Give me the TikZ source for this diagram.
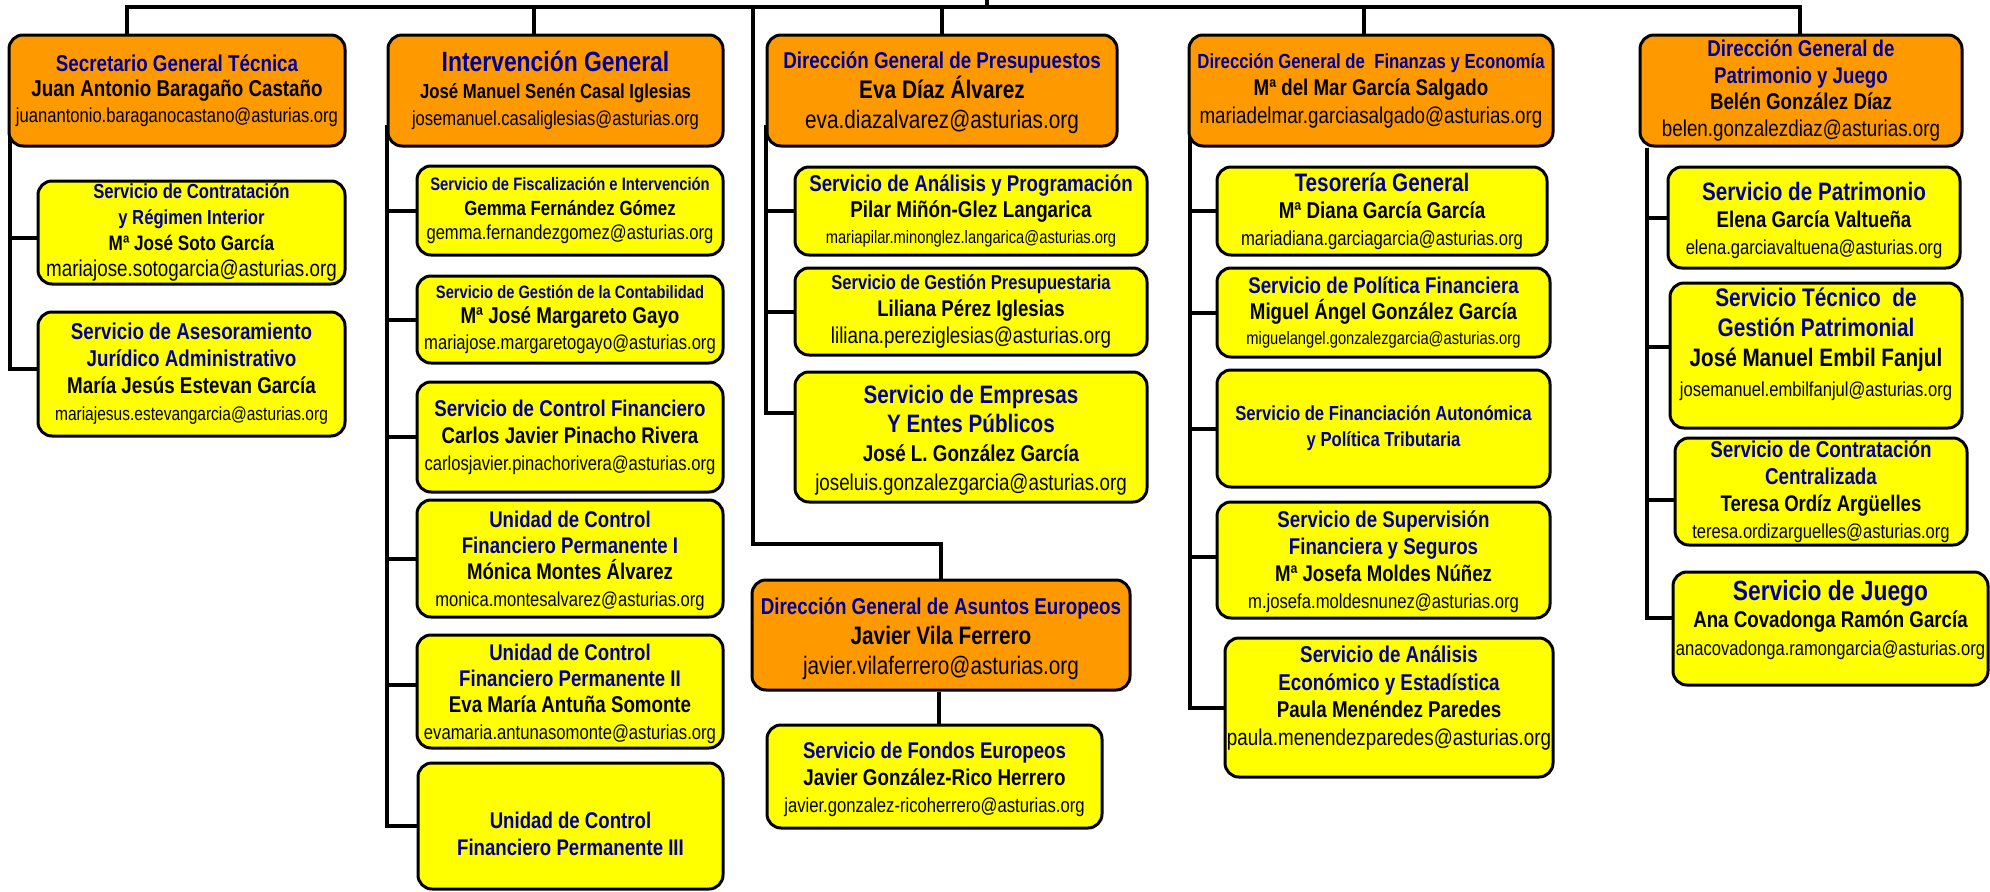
\documentclass[tikz,border=0pt]{standalone}
\usepackage{fontspec}
\setmainfont{Liberation Sans}[FakeStretch=0.82]
\usetikzlibrary{fit,calc}
\definecolor{orgbox}{RGB}{255,153,0}
\definecolor{yelbox}{RGB}{255,255,0}
\definecolor{ttlblue}{RGB}{0,0,153}
\newcommand\Ttl[2]{{\color{ttlblue}\bfseries\fontsize{#1}{#1}\selectfont #2}}
\newcommand\Nme[2]{{\bfseries\fontsize{#1}{#1}\selectfont #2}}
\newcommand\Mail[2]{{\fontsize{#1}{#1}\selectfont #2}}
\pgfdeclarelayer{paper}
\pgfdeclarelayer{bg}
\pgfsetlayers{paper,bg,main}
% name, style, x1, y1, x2, y2, text dy, baselineskip, text
\newcommand\bx[9]{%
  \node[#2, fit={(#3,#4) (#5,#6)}] (#1) {};
  \node[txt, font=\fontsize{20}{#8}\selectfont] (#1-t) at ([yshift=#7bp]#1.center) {#9};}
\begin{document}
\begin{tikzpicture}[x=1bp,y=-1bp,
  boxbase/.style={draw=black, line width=3bp, rounded corners=14bp, inner sep=0pt, minimum size=0pt},
  obox/.style={boxbase, fill=orgbox},
  ybox/.style={boxbase, fill=yelbox},
  txt/.style={align=center, inner sep=0pt},
  conn/.style={draw=black, line width=4bp}]
\useasboundingbox (0,0) rectangle (1990,892);
\begin{pgfonlayer}{paper}
\fill[white] (0,0) rectangle (1990,892);
\end{pgfonlayer}

% ---------- column 1
\bx{sgt}{obox}{9}{35}{345}{146}{0}{25.5}{\Ttl{23}{Secretario General Técnica}\\ \Nme{23}{Juan Antonio Baragaño Castaño}\\ \Mail{20.3}{juanantonio.baraganocastano@asturias.org}}
\bx{contr}{ybox}{38}{181}{345}{284}{0}{26}{\Ttl{20.4}{Servicio de Contratación}\\ \Ttl{20.4}{y Régimen Interior}\\ \Nme{21}{Mª José Soto García}\\ \Mail{23}{mariajose.sotogarcia@asturias.org}}
\bx{ases}{ybox}{38}{312}{345}{436}{0}{27}{\Ttl{23}{Servicio de Asesoramiento}\\ \Ttl{23}{Jurídico Administrativo}\\ \Nme{23}{María Jesús Estevan García}\\ \Mail{19}{mariajesus.estevangarcia@asturias.org}}

% ---------- column 2
\bx{ig}{obox}{388}{35}{723}{146}{0}{27}{\Ttl{28}{Intervención General}\\ \Nme{20.5}{José Manuel Senén Casal Iglesias}\\ \Mail{20.3}{josemanuel.casaliglesias@asturias.org}}
\bx{fisc}{ybox}{417}{166}{723}{255}{0}{25}{\Ttl{18.1}{Servicio de Fiscalización e Intervención}\\ \Nme{20.6}{Gemma Fernández Gómez}\\ \Mail{20.3}{gemma.fernandezgomez@asturias.org}}
\bx{cont}{ybox}{417}{276}{723}{363}{0}{26}{\Ttl{18}{Servicio de Gestión de la Contabilidad}\\ \Nme{23}{Mª José Margareto Gayo}\\ \Mail{20.3}{mariajose.margaretogayo@asturias.org}}
\bx{cf}{ybox}{417}{382}{723}{492}{0}{27}{\Ttl{22.9}{Servicio de Control Financiero}\\ \Nme{22.8}{Carlos Javier Pinacho Rivera}\\ \Mail{20.3}{carlosjavier.pinachorivera@asturias.org}}
\bx{ua}{ybox}{417}{500}{723}{617}{-2}{26.5}{\Ttl{22.8}{Unidad de Control}\\ \Ttl{22.8}{Financiero Permanente I}\\ \Nme{22.8}{Mónica Montes Álvarez}\\ \Mail{20.3}{monica.montesalvarez@asturias.org}}
\bx{ub}{ybox}{417}{635}{723}{748}{-2}{26.5}{\Ttl{22.8}{Unidad de Control}\\ \Ttl{22.8}{Financiero Permanente II}\\ \Nme{22.9}{Eva María Antuña Somonte}\\ \Mail{20.4}{evamaria.antunasomonte@asturias.org}}
\bx{uc}{ybox}{418}{763}{723}{889}{-8}{27}{\Ttl{22.8}{Unidad de Control}\\ \Ttl{22.8}{Financiero Permanente III}}

% ---------- column 3
\bx{pres}{obox}{767}{35}{1117}{146}{-2}{30}{\Ttl{23}{Dirección General de Presupuestos}\\ \Nme{25.5}{Eva Díaz Álvarez}\\ \Mail{25.4}{eva.diazalvarez@asturias.org}}
\bx{anp}{ybox}{795}{167}{1147}{255}{0}{26}{\Ttl{22.9}{Servicio de Análisis y Programación}\\ \Nme{23}{Pilar Miñón-Glez Langarica}\\ \Mail{18}{mariapilar.minonglez.langarica@asturias.org}}
\bx{gp}{ybox}{795}{268}{1147}{355}{0}{27.5}{\Ttl{20.3}{Servicio de Gestión Presupuestaria}\\ \Nme{22.8}{Liliana Pérez Iglesias}\\ \Mail{23}{liliana.pereziglesias@asturias.org}}
\bx{emp}{ybox}{795}{372}{1147}{502}{-3}{29}{\Ttl{25.3}{Servicio de Empresas}\\ \Ttl{25.3}{Y Entes Públicos}\\ \Nme{23}{José L. González García}\\ \Mail{23}{joseluis.gonzalezgarcia@asturias.org}}
\bx{ae}{obox}{752}{580}{1130}{690}{-4}{30}{\Ttl{23}{Dirección General de Asuntos Europeos}\\ \Nme{25.4}{Javier Vila Ferrero}\\ \Mail{25.4}{javier.vilaferrero@asturias.org}}
\bx{fe}{ybox}{767}{725}{1102}{828}{-3}{27}{\Ttl{22.8}{Servicio de Fondos Europeos}\\ \Nme{23}{Javier González-Rico Herrero}\\ \Mail{20.4}{javier.gonzalez-ricoherrero@asturias.org}}

% ---------- column 4
\bx{fin}{obox}{1189}{35}{1553}{146}{0}{27.5}{\Ttl{20.5}{Dirección General de~ Finanzas y Economía}\\ \Nme{22.9}{Mª del Mar García Salgado}\\ \Mail{23}{mariadelmar.garciasalgado@asturias.org}}
\bx{tes}{ybox}{1217}{167}{1547}{255}{0}{27}{\Ttl{25.4}{Tesorería General}\\ \Nme{23}{Mª Diana García García}\\ \Mail{20.4}{mariadiana.garciagarcia@asturias.org}}
\bx{pf}{ybox}{1217}{268}{1550}{357}{0}{26}{\Ttl{22.9}{Servicio de Política Financiera}\\ \Nme{22.9}{Miguel Ángel González García}\\ \Mail{18}{miguelangel.gonzalezgarcia@asturias.org}}
\bx{fa}{ybox}{1217}{370}{1550}{487}{0}{26}{\Ttl{20.4}{Servicio de Financiación Autonómica}\\ \Ttl{20.4}{y Política Tributaria}}
\bx{sup}{ybox}{1217}{502}{1550}{618}{-2}{27}{\Ttl{22.9}{Servicio de Supervisión}\\ \Ttl{22.9}{Financiera y Seguros}\\ \Nme{22.8}{Mª Josefa Moldes Núñez}\\ \Mail{20.4}{m.josefa.moldesnunez@asturias.org}}
\bx{aee}{ybox}{1225}{638}{1553}{777}{9.5}{27.5}{\Ttl{23}{Servicio de Análisis}\\ \Ttl{23}{Económico y Estadística}\\ \Nme{23}{Paula Menéndez Paredes}\\ \Mail{23}{paula.menendezparedes@asturias.org}}

% ---------- column 5
\bx{pj}{obox}{1640}{35}{1962}{146}{0}{27}{\Ttl{22.9}{Dirección General de}\\ \Ttl{22.9}{Patrimonio y Juego}\\ \Nme{22.9}{Belén González Díaz}\\ \Mail{23}{belen.gonzalezdiaz@asturias.org}}
\bx{pat}{ybox}{1668}{167}{1960}{268}{-3}{27.5}{\Ttl{25.3}{Servicio de Patrimonio}\\ \Nme{22.8}{Elena García Valtueña}\\ \Mail{20.3}{elena.garciavaltuena@asturias.org}}
\bx{tec}{ybox}{1670}{283}{1962}{428}{11}{30}{\Ttl{25.5}{Servicio Técnico~ de}\\ \Ttl{25.5}{Gestión Patrimonial}\\ \Nme{25.3}{José Manuel Embil Fanjul}\\ \Mail{20.3}{josemanuel.embilfanjul@asturias.org}}
\bx{cc}{ybox}{1675}{438}{1967}{545}{0}{27}{\Ttl{23}{Servicio de Contratación}\\ \Ttl{23}{Centralizada}\\ \Nme{22.7}{Teresa Ordíz Argüelles}\\ \Mail{20.3}{teresa.ordizarguelles@asturias.org}}
\bx{jue}{ybox}{1673}{572}{1988}{685}{8.5}{28}{\Ttl{27.9}{Servicio de Juego}\\ \Nme{22.9}{Ana Covadonga Ramón García}\\ \Mail{20.3}{anacovadonga.ramongarcia@asturias.org}}

% ---------- connectors
\coordinate (parent) at (987,0);
\coordinate (t0) at (987,7);
\coordinate (t1) at (127,7);
\coordinate (t2) at (534,7);
\coordinate (t3) at (753,7);
\coordinate (t4) at (942,7);
\coordinate (t5) at (1364,7);
\coordinate (t6) at (1800,7);
\begin{pgfonlayer}{bg}
\draw[conn] (parent) -- (t0);
\draw[conn] (t1 |- sgt.north) -- (t1) -- (t6) -- (t6 |- pj.north);
\draw[conn] (t2) -- (t2 |- ig.north);
\draw[conn] (t4) -- (t4 |- pres.north);
\draw[conn] (t5) -- (t5 |- fin.north);
\draw[conn] (t3) |- ([yshift=35bp]ae.north) -- (ae.north);
\draw[conn] ([xshift=-2bp]ae.south) -- ([xshift=-2bp]ae.south |- fe.north);
% Secretaria
\draw[conn] ([xshift=2bp,yshift=23bp]sgt.south west) |- ([yshift=5bp]ases.west);
\draw[conn] ([xshift=2bp,yshift=23bp]sgt.south west) |- ([yshift=-5.5bp]contr.west);
% Intervencion
\draw[conn] ([yshift=23bp]ig.south west) |- (uc.west);
\foreach \n in {fisc,cont,cf,ua}{\draw[conn] ([yshift=23bp]ig.south west) |- (\n.west);}
\draw[conn] ([yshift=23bp]ig.south west) |- ([yshift=6.5bp]ub.west);
% Presupuestos
\draw[conn] ([yshift=23bp]pres.south west) |- ([yshift=24bp]emp.west);
\draw[conn] ([yshift=23bp]pres.south west) |- (anp.west);
\draw[conn] ([yshift=23bp]pres.south west) |- (gp.west);
% Finanzas
\draw[conn] ([xshift=2bp,yshift=23bp]fin.south west) |- (aee.west);
\foreach \n in {tes,pf,fa}{\draw[conn] ([xshift=2bp,yshift=23bp]fin.south west) |- (\n.west);}
\draw[conn] ([xshift=2bp,yshift=23bp]fin.south west) |- ([yshift=3bp]sup.west);
% Patrimonio
\draw[conn] ([xshift=8bp]pj.south west) |- ([yshift=10.5bp]jue.west);
\draw[conn] ([xshift=8bp]pj.south west) |- (pat.west);
\draw[conn] ([xshift=8bp]pj.south west) |- ([yshift=8.5bp]tec.west);
\draw[conn] ([xshift=8bp]pj.south west) |- ([yshift=-8.5bp]cc.west);
\end{pgfonlayer}
\end{tikzpicture}
\end{document}
